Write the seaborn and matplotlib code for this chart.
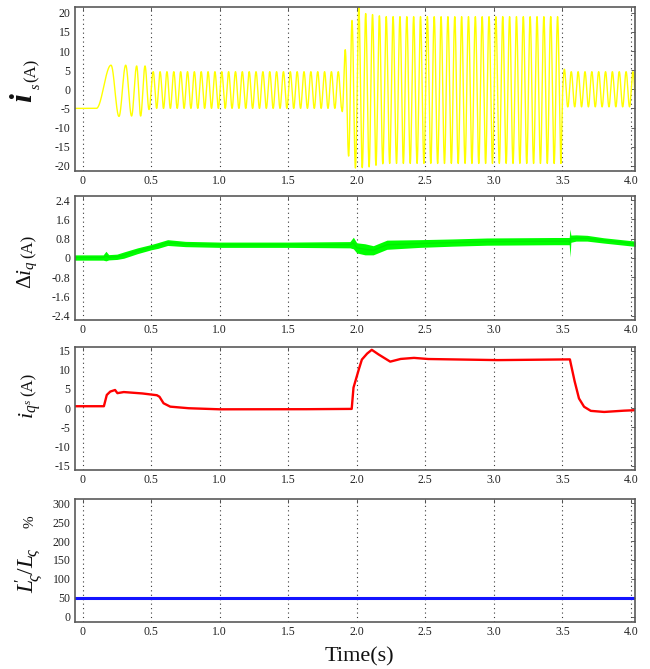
import numpy as np
import matplotlib
matplotlib.use("Agg")
import matplotlib.pyplot as plt
from matplotlib.ticker import FixedLocator, NullFormatter
import seaborn as sns

# ---------------------------------------------------------------- data
# shared time axis ticks (s)
x_ticks = [0, 0.5, 1.0, 1.5, 2.0, 2.5, 3.0, 3.5, 4.0]
x_tick_labels = ["0", "0.5", "1.0", "1.5", "2.0", "2.5", "3.0", "3.5", "4.0"]

# stator current i_s : start-up extrema (time s, current A)
is_start_t = [-0.06, 0.10, 0.207, 0.265, 0.314, 0.357, 0.394, 0.423, 0.455, 0.484, 0.515]
is_start_v = [-5.0, -5.0, 6.3, -7.1, 6.3, -7.0, 6.1, -7.0, 6.1, -5.3, 4.6]
# stator current i_s : supply frequency and envelope after start-up
is_freq_hz = 20.0
is_env_t = [0.515, 1.89, 1.915, 1.965, 1.99, 2.015, 2.04, 2.09, 2.20, 3.49, 3.505, 3.54, 4.05]
is_env_amp = [4.8, 4.8, 12.6, 19.0, 20.4, 21.5, 20.2, 20.0, 19.2, 19.2, 5.8, 4.6, 4.6]
is_env_off = [-0.2, -0.2, -2.3, -1.0, -0.2, 0.0, -0.3, -0.3, -0.2, -0.2, -0.3, 0.0, 0.0]
is_yticks = [-20, -15, -10, -5, 0, 5, 10, 15, 20]
is_ygrid = [-20, -10, 0, 10, 20]

# q-axis current error Δi_q : centre of the trace and its ripple spread (A)
dq_t = [-0.06, 0.15, 0.17, 0.19, 0.25, 0.30, 0.40, 0.50, 0.55, 0.62, 0.75, 1.00,
        1.50, 1.95, 1.975, 2.00, 2.06, 2.12, 2.22, 2.46, 2.70, 2.95, 3.44, 3.550,
        3.556, 3.562, 3.60, 3.68, 3.80, 4.05]
dq_mid = [0.02, 0.02, 0.08, 0.03, 0.05, 0.12, 0.30, 0.45, 0.52, 0.64, 0.58, 0.55,
          0.55, 0.55, 0.62, 0.42, 0.36, 0.32, 0.55, 0.60, 0.64, 0.68, 0.70, 0.70,
          0.62, 0.80, 0.83, 0.82, 0.73, 0.58]
dq_spread = [0.11, 0.11, 0.20, 0.11, 0.11, 0.13, 0.12, 0.11, 0.12, 0.12, 0.11, 0.11,
             0.11, 0.13, 0.24, 0.21, 0.23, 0.19, 0.19, 0.16, 0.15, 0.15, 0.15, 0.15,
             0.58, 0.15, 0.13, 0.12, 0.11, 0.11]
dq_yticks = [-2.4, -1.6, -0.8, 0, 0.8, 1.6, 2.4]
dq_ytick_labels = ["-2.4", "-1.6", "-0.8", "0", "0.8", "1.6", "2.4"]
dq_ygrid = [-2.4, -0.8, 0.8, 2.4]

# q-axis stator current i_qs (A)
iqs_t = [-0.06, 0.155, 0.175, 0.20, 0.236, 0.253, 0.297, 0.418, 0.54, 0.56, 0.589,
         0.637, 0.759, 0.98, 1.50, 1.963, 1.975, 1.999, 2.036, 2.072, 2.109, 2.145,
         2.194, 2.243, 2.316, 2.413, 2.51, 3.00, 3.555, 3.584, 3.62, 3.657, 3.706,
         3.80, 3.92, 4.05]
iqs_v = [0.5, 0.5, 3.4, 4.3, 4.75, 3.9, 4.2, 3.9, 3.4, 3.0, 1.3,
         0.4, 0.0, -0.3, -0.3, -0.2, 5.2, 8.2, 12.6, 14.1, 15.2, 14.3,
         13.2, 12.1, 12.8, 13.1, 12.8, 12.5, 12.7, 7.8, 2.6, 0.4, -0.7,
         -1.0, -0.7, -0.5]
iqs_yticks = [-15, -10, -5, 0, 5, 10, 15]
iqs_ygrid = [-15, -5, 5, 15]

# leakage inductance ratio L'σ/Lσ (%)
ratio_t = [-0.06, 4.05]
ratio_v = [50, 50]
ratio_yticks = [0, 50, 100, 150, 200, 250, 300]
ratio_ygrid = [0, 100, 200, 300]

# ---------------------------------------------------------------- signals
t = np.linspace(-0.06, 4.05, 16000)

# start-up: half-cosine transitions between successive extrema
st = np.asarray(is_start_t)
sv = np.asarray(is_start_v)
k = np.clip(np.searchsorted(st, t, side="right") - 1, 0, len(st) - 2)
u = np.clip((t - st[k]) / (st[k + 1] - st[k]), 0, 1)
start_wave = sv[k] + (sv[k + 1] - sv[k]) * (1 - np.cos(np.pi * u)) / 2
# steady oscillation with the read envelope
amp = np.interp(t, is_env_t, is_env_amp)
off = np.interp(t, is_env_t, is_env_off)
steady_wave = off + amp * np.cos(2 * np.pi * is_freq_hz * (t - is_start_t[-1]))
is_wave = np.where(t < is_start_t[-1], start_wave, steady_wave)

dq_c = np.interp(t, dq_t, dq_mid)
dq_s = np.interp(t, dq_t, dq_spread)
iqs_wave = np.interp(t, iqs_t, iqs_v)

# ---------------------------------------------------------------- style
sns.set_style("white")
plt.rcParams.update({
    "font.family": ["Liberation Serif", "DejaVu Serif"],
    "mathtext.fontset": "custom",
    "mathtext.rm": "Liberation Serif",
    "mathtext.it": "Liberation Serif:italic",
    "mathtext.bf": "Liberation Serif:bold",
    "axes.unicode_minus": False,
})

W, H = 650, 669
fig = plt.figure(figsize=(W / 100, H / 100), dpi=100)
fig.patch.set_facecolor("white")

left_px, right_px = 74.7, 635.0
rows_px = [(6.7, 170.7), (196.0, 320.0), (346.7, 470.0), (499.0, 621.7)]
xlim = (-0.058, 4.03)
ylims = [(-21.3, 21.6), (-2.57, 2.57), (-16.1, 16.0), (-13.0, 311.0)]


def make_axes(top, bottom):
    return fig.add_axes([left_px / W, 1 - bottom / H,
                         (right_px - left_px) / W, (bottom - top) / H])


def style_axes(ax, ylim, yticks, ygrid, ylabels=None):
    ax.set_xlim(*xlim)
    ax.set_ylim(*ylim)
    ax.set_xticks(x_ticks)
    ax.set_xticklabels(x_tick_labels)
    ax.set_yticks(yticks)
    if ylabels is None:
        ylabels = [str(v) for v in yticks]
    ax.set_yticklabels(ylabels)
    ax.yaxis.set_minor_locator(FixedLocator(ygrid))
    ax.yaxis.set_minor_formatter(NullFormatter())
    ax.set_xlabel("")
    ax.set_ylabel("")
    grid_kw = dict(color="#3a3a3a", linewidth=0.8, linestyle=(0, (1, 3)))
    ax.grid(True, which="major", axis="x", **grid_kw)
    ax.grid(True, which="minor", axis="y", **grid_kw)
    ax.grid(False, which="major", axis="y")
    ax.set_axisbelow(True)
    ax.tick_params(which="major", direction="in", length=3, width=0.6,
                   top=True, right=True, colors="#444444",
                   labelcolor="#222222", labelsize=8.5, pad=3)
    ax.tick_params(which="minor", length=0)
    for sp in ax.spines.values():
        sp.set_color("#5a5a5a")
        sp.set_linewidth(1.2)
        sp.set_visible(True)


axes = [make_axes(*r) for r in rows_px]

# i_s
sns.lineplot(x=t, y=is_wave, ax=axes[0], color="#ffff00", linewidth=1.0,
             estimator=None, sort=False)
style_axes(axes[0], ylims[0], is_yticks, is_ygrid)

# Δi_q
axes[1].fill_between(t, dq_c - dq_s, dq_c + dq_s, color="#00ff00", linewidth=0)
sns.lineplot(x=t, y=dq_c, ax=axes[1], color="#00ee00", linewidth=1.0,
             estimator=None, sort=False)
style_axes(axes[1], ylims[1], dq_yticks, dq_ygrid, dq_ytick_labels)

# i_qs
sns.lineplot(x=t, y=iqs_wave, ax=axes[2], color="#ff0000", linewidth=1.7,
             estimator=None, sort=False)
style_axes(axes[2], ylims[2], iqs_yticks, iqs_ygrid)

# L'σ/Lσ
sns.lineplot(x=ratio_t, y=ratio_v, ax=axes[3], color="#1414ff", linewidth=2.2,
             estimator=None, sort=False)
style_axes(axes[3], ylims[3], ratio_yticks, ratio_ygrid)


# ---------------------------------------------------------------- labels
def vtext(x, y, s, size, **kw):
    fig.text(x / W, 1 - y / H, s, rotation=90, ha="center", va="center",
             fontsize=size, color="#111111", **kw)


# i_s (A)
vtext(23.5, 98, "i", 23, fontstyle="italic", fontweight="bold")
vtext(36, 86, "s", 10, fontstyle="italic")
vtext(31.5, 70.5, "(A)", 12)

# Δi_q(A)
vtext(27, 275, r"$\Delta i_q$", 15.5)
vtext(29, 246, "(A)", 12)

# i_qs(A)
vtext(30, 409, r"$i_{q^{s}}$", 16)
vtext(29, 384, "(A)", 12)

# L'σ/Lσ %
vtext(29, 570, r"$L^{\!\!\prime}_{\!\varsigma}/L_{\!\varsigma}$", 17)
vtext(30, 522, "%", 11)

fig.text(359 / W, 1 - 657 / H, "Time(s)", ha="center", va="center",
         fontsize=16, color="#111111")

fig.savefig("out.png", dpi=100, facecolor="white")
